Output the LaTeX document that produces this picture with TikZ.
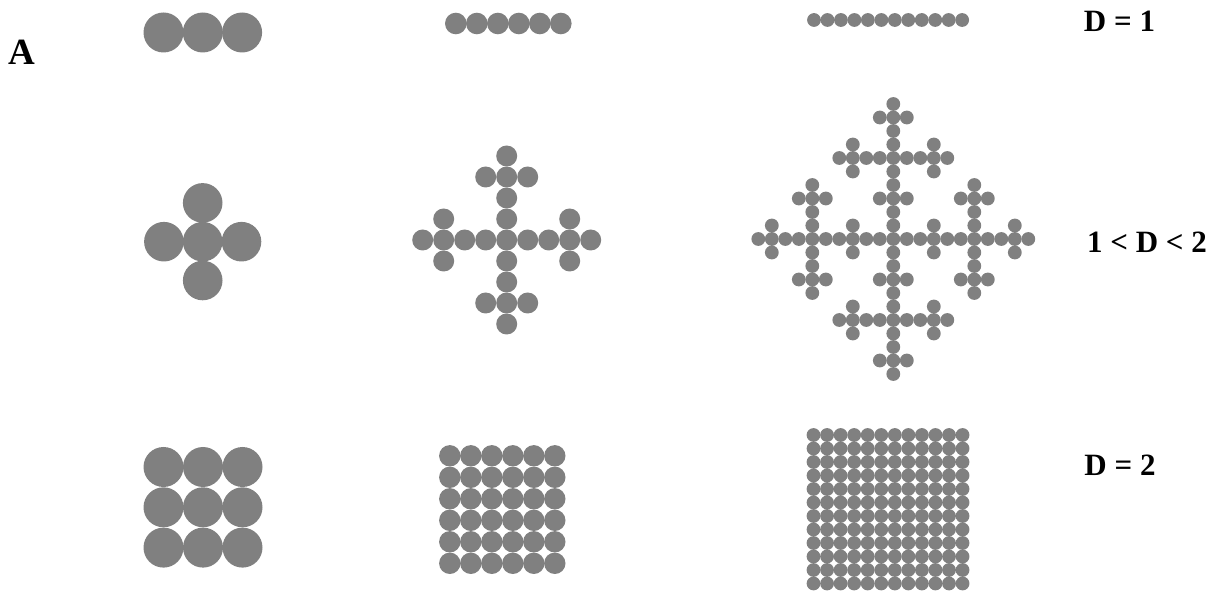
\documentclass[tikz,border=0pt]{standalone}
\usepackage{fontspec}
\setmainfont{Liberation Serif}
\usepackage{xcolor}
\usepackage{tikz}
\usetikzlibrary{positioning}
\definecolor{dotgray}{HTML}{808080}

% one plus-shaped group of five dots: centre x, centre y, spacing, radius
\newcommand{\dotcross}[4]{%
  \foreach \dx/\dy in {0/0,1/0,-1/0,0/1,0/-1}
    \fill[dotgray] ({#1+\dx*#3},{#2+\dy*#3}) circle (#4);}

\begin{document}
\begin{tikzpicture}[x=1pt, y=-1pt,
    dimlabel/.style={font=\bfseries\fontsize{31}{36}\selectfont, inner sep=0pt},
    panellabel/.style={font=\bfseries\fontsize{37}{42}\selectfont, inner sep=0pt}]
    \path[use as bounding box] (0,0) rectangle (1216,593);

    % row 1: lines
    \foreach \k in {0,...,2}
      \fill[dotgray] ({163.5+\k*39.3},32.5) circle (20);
    \foreach \k in {0,...,5}
      \fill[dotgray] ({455.8+\k*21},23.5) circle (10.8);
    \foreach \k in {0,...,11}
      \fill[dotgray] ({814+\k*13.47},20) circle (6.9);

    % row 2: crosses
    \dotcross{202.7}{241.7}{38.8}{19.8}
    \foreach \a/\b in {0/0,1/0,-1/0,0/1,0/-1}
      \dotcross{506.7+\a*63}{240+\b*63}{21}{10.5};
    \foreach \a/\b in {-3/0,-2/0,-1/0,0/0,1/0,2/0,3/0,0/-3,0/-2,0/-1,0/1,0/2,0/3,
                       1/2,-1/2,1/-2,-1/-2,2/1,-2/1,2/-1,-2/-1}
      \dotcross{893.3+\a*40.5}{239+\b*40.5}{13.5}{6.9};

    % row 3: squares
    \foreach \i in {0,...,2}
      \foreach \j in {0,...,2}
        \fill[dotgray] ({163.5+\i*39.5},{467+\j*40.3}) circle (20);
    \foreach \i in {0,...,5}
      \foreach \j in {0,...,5}
        \fill[dotgray] ({449.8+\i*21},{455.8+\j*21.5}) circle (10.7);
    \foreach \i in {0,...,11}
      \foreach \j in {0,...,11}
        \fill[dotgray] ({813.5+\i*13.55},{435+\j*13.5}) circle (6.9);

    % labels
    \node[panellabel] (panelA) at (21.5,52.5) {A};
    \node[dimlabel] (dimone) at (1119.5,21.5) {D = 1};
    \node[dimlabel] (dimfrac) at (1147,242) {1 < D < 2};
    \node[dimlabel] (dimtwo) at (1120,465.5) {D = 2};
\end{tikzpicture}
\end{document}
